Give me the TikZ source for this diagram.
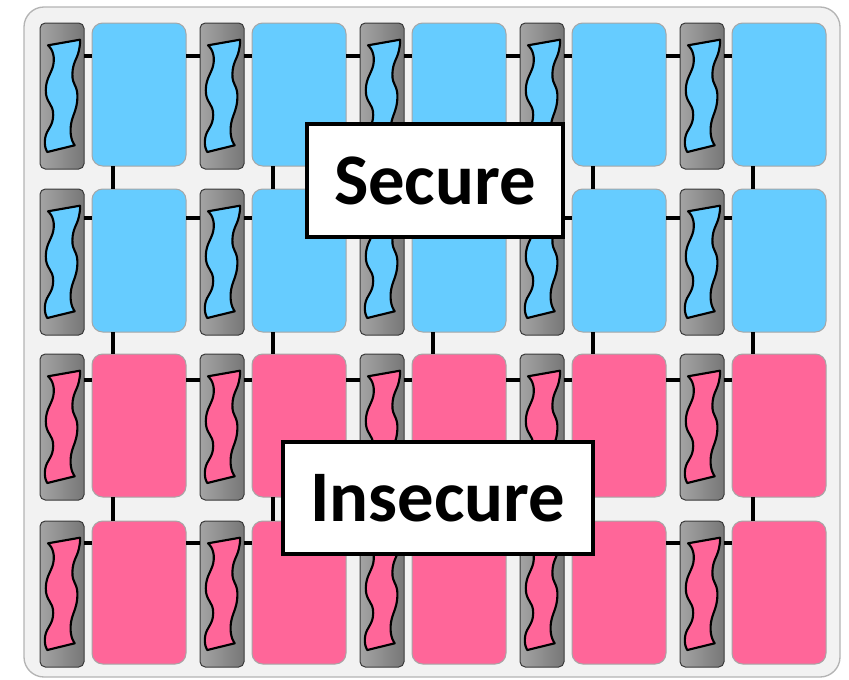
\documentclass[tikz,border=0pt]{standalone}
\usepackage{fontspec}
\newfontfamily\labelfont{Carlito}
\definecolor{tileblue}{HTML}{66CCFF}
\definecolor{tilepink}{HTML}{FF6699}
\definecolor{tileedge}{HTML}{A6A6A6}
\definecolor{bggray}{HTML}{F2F2F2}
\definecolor{bordergray}{HTML}{B4B4B4}
\definecolor{gateL}{HTML}{A4A4A4}
\definecolor{gateR}{HTML}{777777}
\definecolor{gateedge}{HTML}{3A3A3A}
\begin{document}
\begin{tikzpicture}[x=0.75pt,y=-0.75pt,
  framebox/.style={draw=bordergray, fill=bggray, line width=1pt, rounded corners=15pt,
    minimum width=612pt, minimum height=502.5pt, anchor=north west, inner sep=0pt, outer sep=0pt},
  gatebox/.style={draw=gateedge, line width=0.75pt, rounded corners=4pt, left color=gateL, right color=gateR,
    minimum width=33pt, minimum height=109.5pt, anchor=north west, inner sep=0pt, outer sep=0pt},
  tilebox/.style={draw=tileedge, line width=0.75pt, rounded corners=8pt,
    minimum width=70.5pt, minimum height=107.25pt, anchor=north west, inner sep=0pt, outer sep=0pt},
  ribbon/.style={draw=black, line width=1.6pt, line join=round},
  wire/.style={draw=black, line width=2.5pt},
  labelbox/.style={draw=black, line width=2.5pt, fill=white, inner sep=0pt,
    font=\labelfont\bfseries\fontsize{54.5pt}{60pt}\selectfont}
]
\useasboundingbox (0,0) rectangle (849,679);
\node[framebox] (frame) at (24,7) {};
% gates, tiles and ribbons
\foreach \r/\yy/\col in {1/23/tileblue, 2/189/tileblue, 3/354/tilepink, 4/521/tilepink} {
  \foreach \c in {1,...,5} {
    \pgfmathsetmacro\gx{40+160*(\c-1)}
    \node[gatebox] (g\r\c) at (\gx,\yy) {};
    \node[tilebox, fill=\col] (t\r\c) at (\gx+52,\yy) {};
    \begin{scope}[shift={(g\r\c.north west)}]
      \draw[ribbon, fill=\col] (8,22.3) -- (40,16.7)
        -- plot[smooth, tension=0.9] coordinates {(40,16.7) (38.8,28) (32.4,51) (37.4,75) (30.6,105) (34.7,122.3)}
        -- (7.3,129)
        -- plot[smooth, tension=0.9] coordinates {(7.3,129) (5.2,115) (13.2,92) (5.8,67) (13.8,38) (8,22.3)}
        -- cycle;
    \end{scope}
  }
}
% horizontal wires
\foreach \r/\off in {1/33, 2/29, 3/26, 4/22} {
  \foreach \c in {1,...,5} {
    \draw[wire] ([yshift=-\off*0.75pt]g\r\c.north east) -- ([yshift=-\off*0.75pt]t\r\c.north west);
  }
  \foreach \c [evaluate=\c as \d using int(\c+1)] in {1,...,4} {
    \draw[wire] ([yshift=-\off*0.75pt]t\r\c.north east) -- ([yshift=-\off*0.75pt]g\r\d.north west);
  }
}
% vertical wires
\foreach \r/\s in {1/2, 2/3, 3/4} {
  \foreach \c in {1,...,5} {
    \draw[wire] ([xshift=15.75pt]t\r\c.south west) -- ([xshift=15.75pt]t\s\c.north west);
  }
}
% labels
\node[labelbox, minimum width=192pt, minimum height=84.75pt] (secure) at (435,180.5) {Secure};
\node[labelbox, minimum width=232.5pt, minimum height=84pt] (insecure) at (438,498) {Insecure};
\end{tikzpicture}
\end{document}
